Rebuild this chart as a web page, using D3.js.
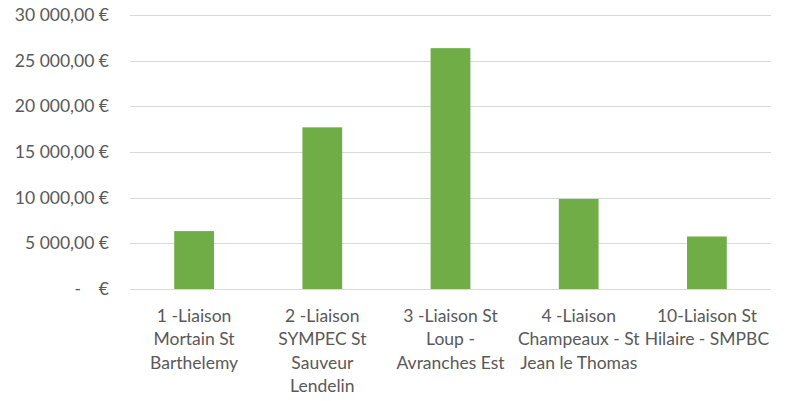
<!DOCTYPE html>
<html>
<head>
<meta charset="UTF-8">
<title>Liaisons</title>
<script src="https://d3js.org/d3.v7.min.js"></script>
<style>
    body {margin: 0; background: #fff;}
    text {font-family: Lato, "Open Sans", sans-serif; font-size: 17.5px; fill: #595959;}
    .grid line {stroke: #d9d9d9; stroke-width: 1px;}
    .bar {fill: #70ad47;}
</style>
</head>
<body>
<div id="chart"></div>
<script>

    // tick labels, already broken into lines like the original
    var categories = [
        ["1 -Liaison", "Mortain St", "Barthelemy"],
        ["2 -Liaison", "SYMPEC St", "Sauveur", "Lendelin"],
        ["3 -Liaison St", "Loup -", "Avranches Est"],
        ["4 -Liaison", "Champeaux - St", "Jean le Thomas"],
        ["10-Liaison St", "Hilaire - SMPBC"]
    ];
    var values = [6340, 17700, 26370, 9860, 5750];
    var yTicks = [0, 5000, 10000, 15000, 20000, 25000, 30000];

    var W = 787, H = 401;
    var margin = {top: 15, right: 16, bottom: 112, left: 130};
    var width = W - margin.left - margin.right,
        height = H - margin.top - margin.bottom;

    var svg = d3.select("#chart").append("svg")
        .attr("width", W)
        .attr("height", H);

    var g = svg.append("g")
        .attr("transform", "translate(" + margin.left + "," + margin.top + ")");

    var x = d3.scaleBand()
        .domain(d3.range(values.length))
        .range([0, width])
        .paddingInner(0.69)
        .paddingOuter(0.345);

    var y = d3.scaleLinear()
        .domain([0, 30000])
        .range([height, 0]);

    var fr = d3.formatLocale({decimal: ",", thousands: "\u00a0", grouping: [3], currency: ["", " €"]});
    var fmt = fr.format(",.2f");
    function money(d) {
        return d === 0 ? "-\u00a0\u00a0\u00a0\u00a0€" : fmt(d) + "\u00a0€";
    }

    // gridlines
    g.append("g").attr("class", "grid")
        .selectAll("line")
        .data(yTicks)
        .enter().append("line")
        .attr("x1", 0)
        .attr("x2", width)
        .attr("y1", function(d) {return Math.round(y(d)) + 0.5})
        .attr("y2", function(d) {return Math.round(y(d)) + 0.5});

    // y labels
    g.append("g")
        .selectAll("text")
        .data(yTicks)
        .enter().append("text")
        .attr("x", -21)
        .attr("y", function(d) {return y(d)})
        .attr("dy", "0.35em")
        .attr("text-anchor", "end")
        .text(money);

    // bars
    g.append("g")
        .selectAll("rect")
        .data(values)
        .enter().append("rect")
        .attr("class", "bar")
        .attr("x", function(d, i) {return x(i)})
        .attr("width", x.bandwidth())
        .attr("y", function(d) {return y(d)})
        .attr("height", function(d) {return height - y(d)});

    // category labels
    var labels = g.append("g")
        .selectAll("text")
        .data(categories)
        .enter().append("text")
        .attr("text-anchor", "middle")
        .attr("transform", function(d, i) {return "translate(" + (x(i) + x.bandwidth() / 2) + "," + (height + 33) + ")"});

    labels.selectAll("tspan")
        .data(function(d) {return d})
        .enter().append("tspan")
        .attr("x", 0)
        .attr("y", function(d, j) {return j * 23.4})
        .text(function(d) {return d});

</script>
</body>
</html>
